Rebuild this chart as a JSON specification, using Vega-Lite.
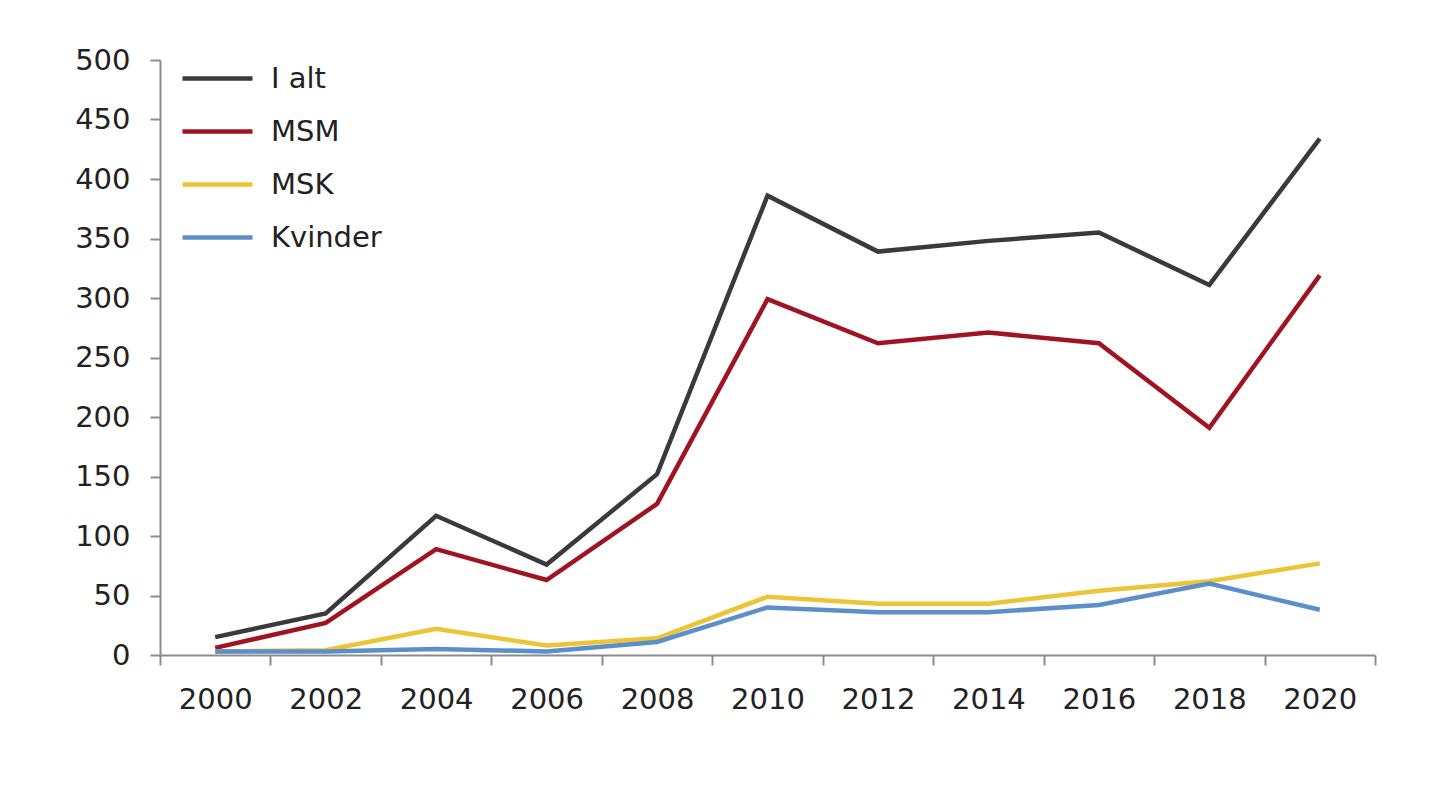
{
  "$schema": "https://vega.github.io/schema/vega-lite/v6.json",
  "width": 1215,
  "height": 595,
  "autosize": "none",
  "padding": {"left": 160, "top": 60, "right": 65, "bottom": 156},
  "background": "white",
  "config": {
    "view": {"stroke": null},
    "font": "DejaVu Sans",
    "axis": {"grid": false, "domainColor": "#8c8c8c", "tickColor": "#8c8c8c", "domainWidth": 2, "tickWidth": 2, "labelColor": "#222222", "labelFontSize": 29, "labelFont": "DejaVu Sans", "title": null}
  },
  "data": {
    "values": [
      {"year": "2000", "series": "I alt", "value": 15},
      {"year": "2002", "series": "I alt", "value": 35},
      {"year": "2004", "series": "I alt", "value": 117},
      {"year": "2006", "series": "I alt", "value": 76},
      {"year": "2008", "series": "I alt", "value": 152},
      {"year": "2010", "series": "I alt", "value": 386},
      {"year": "2012", "series": "I alt", "value": 339},
      {"year": "2014", "series": "I alt", "value": 348},
      {"year": "2016", "series": "I alt", "value": 355},
      {"year": "2018", "series": "I alt", "value": 311},
      {"year": "2020", "series": "I alt", "value": 434},
      {"year": "2000", "series": "MSM", "value": 6},
      {"year": "2002", "series": "MSM", "value": 27},
      {"year": "2004", "series": "MSM", "value": 89},
      {"year": "2006", "series": "MSM", "value": 63},
      {"year": "2008", "series": "MSM", "value": 127},
      {"year": "2010", "series": "MSM", "value": 299},
      {"year": "2012", "series": "MSM", "value": 262},
      {"year": "2014", "series": "MSM", "value": 271},
      {"year": "2016", "series": "MSM", "value": 262},
      {"year": "2018", "series": "MSM", "value": 191},
      {"year": "2020", "series": "MSM", "value": 319},
      {"year": "2000", "series": "MSK", "value": 3},
      {"year": "2002", "series": "MSK", "value": 4},
      {"year": "2004", "series": "MSK", "value": 22},
      {"year": "2006", "series": "MSK", "value": 8},
      {"year": "2008", "series": "MSK", "value": 14},
      {"year": "2010", "series": "MSK", "value": 49},
      {"year": "2012", "series": "MSK", "value": 43},
      {"year": "2014", "series": "MSK", "value": 43},
      {"year": "2016", "series": "MSK", "value": 54},
      {"year": "2018", "series": "MSK", "value": 62},
      {"year": "2020", "series": "MSK", "value": 77},
      {"year": "2000", "series": "Kvinder", "value": 3},
      {"year": "2002", "series": "Kvinder", "value": 3},
      {"year": "2004", "series": "Kvinder", "value": 5},
      {"year": "2006", "series": "Kvinder", "value": 3},
      {"year": "2008", "series": "Kvinder", "value": 11},
      {"year": "2010", "series": "Kvinder", "value": 40},
      {"year": "2012", "series": "Kvinder", "value": 36},
      {"year": "2014", "series": "Kvinder", "value": 36},
      {"year": "2016", "series": "Kvinder", "value": 42},
      {"year": "2018", "series": "Kvinder", "value": 60},
      {"year": "2020", "series": "Kvinder", "value": 38}
    ]
  },
  "mark": {"type": "line", "strokeWidth": 4.5},
  "encoding": {
    "x": {
      "field": "year", "type": "ordinal", "bandPosition": 0.5,
      "scale": {"type": "band", "paddingInner": 0, "paddingOuter": 0},
      "axis": {"labelAngle": 0, "tickBand": "extent", "tickSize": 10, "labelPadding": 20}
    },
    "y": {
      "field": "value", "type": "quantitative",
      "scale": {"domain": [0, 500], "nice": false},
      "axis": {"values": [0, 50, 100, 150, 200, 250, 300, 350, 400, 450, 500], "tickSize": 10, "labelPadding": 20}
    },
    "color": {
      "field": "series", "type": "nominal",
      "scale": {"domain": ["I alt", "MSM", "MSK", "Kvinder"], "range": ["#3a3a3a", "#a01422", "#ecc435", "#5b8fc9"]},
      "legend": {
        "title": null, "orient": "none", "legendX": 20, "legendY": -19,
        "symbolType": "stroke", "symbolSize": 4900, "symbolStrokeWidth": 4.5,
        "labelFontSize": 29, "labelColor": "#222222", "labelOffset": 16, "rowPadding": -16
      }
    },
    "order": {"field": "series"}
  }
}
